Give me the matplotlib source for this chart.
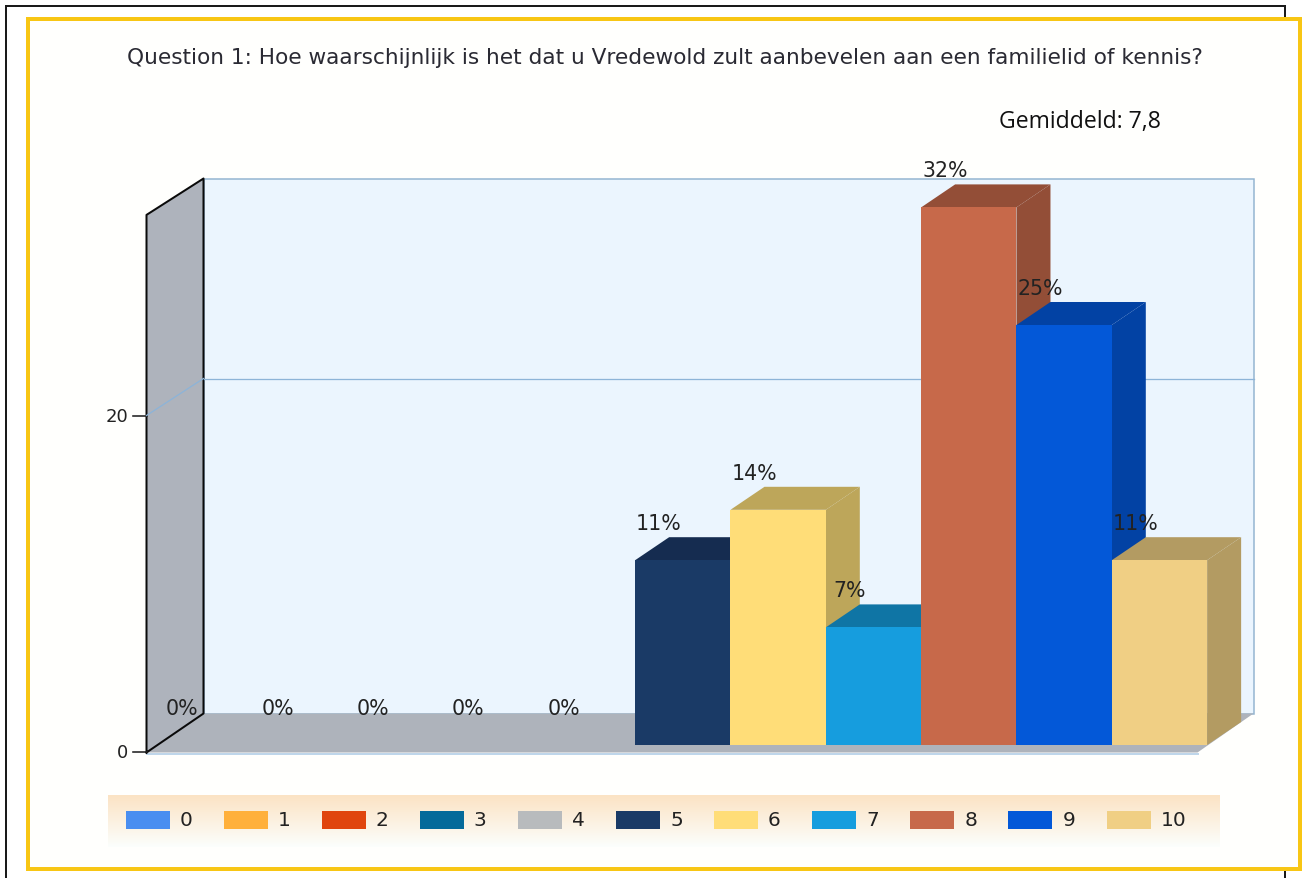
import numpy as np
import matplotlib
matplotlib.use("Agg")
import matplotlib.pyplot as plt
from matplotlib.patches import Polygon, Rectangle

categories = ["0", "1", "2", "3", "4", "5", "6", "7", "8", "9", "10"]
percentages = [0, 0, 0, 0, 0, 11, 14, 7, 32, 25, 11]
front_colors = ["#4A8EF0", "#FFB03B", "#E0450E", "#046A9A", "#B8BBBD", "#1A3A66",
                "#FFDD78", "#169DDE", "#C7694A", "#0358D8", "#F0CF84"]
top_colors = ["#3A70C0", "#C88A30", "#B0360B", "#035278", "#909294", "#152C50",
              "#BDA65A", "#0F75A5", "#934E37", "#0242A4", "#B39B62"]
y_ticks = [0, 20]
title = "Question 1: Hoe waarschijnlijk is het dat u Vredewold zult aanbevelen aan een familielid of kennis?"
note = "Gemiddeld: 7,8"

W, H = 1303, 879
fig = plt.figure(figsize=(W / 100, H / 100), dpi=100, facecolor="white")

# Pixel-space layer for the frame, walls and legend band
bg = fig.add_axes([0, 0, 1, 1], zorder=0)

def px(w):
    return w * 0.72

# outer black frame, open at the bottom
bg.plot([5, 5, 1284, 1284], [H, 6, 6, H], color="#1a1a1a", lw=px(2), zorder=1, solid_joinstyle="miter")
# gold frame
bg.add_patch(Rectangle((27.5, 19), 1272, 850.5, fc="#FFFFFD", ec="#F8C614", lw=px(4), zorder=2))

# 3D box
BL, BT, BR, BB = 203, 179, 1253, 714   # back wall
FL, FR, FB = 146, 1197, 753            # front edge
unit = 16.8
wall_top = FB - unit * max(percentages)
bg.add_patch(Rectangle((BL, BT), BR - BL, BB - BT, fc="#EBF5FE", ec="#92B4D0", lw=px(1.5), zorder=3))
bg.add_patch(Polygon([(FL, FB), (BL, BB), (BR, BB), (FR, FB)], fc="#AEB3BB", ec="none", zorder=3))
bg.plot([FL, FR], [FB + 1, FB + 1], color="#BFD6EA", lw=px(2), zorder=3)
bg.add_patch(Polygon([(FL, wall_top), (BL, BT), (BL, BB), (FL, FB)], fc="#AEB3BC", ec="none", zorder=3))
bg.plot([FL, FL, BL, BL, FL], [FB, wall_top, BT, BB, FB], color="#0a0a0a", lw=px(2), zorder=4)

for t in y_ticks:
    yf = FB - 1 - unit * t
    yb = yf - 37
    bg.plot([FL - 14, FL], [yf, yf], color="#222222", lw=px(1.6), zorder=4)
    bg.text(FL - 18, yf + 1, str(t), ha="right", va="center", fontsize=13, color="#222222", zorder=5)
    if t:
        bg.plot([FL, BL], [yf, yb], color="#8DB4D8", lw=px(1.3), zorder=4)
        bg.plot([BL, BR], [yb, yb], color="#8DB4D8", lw=px(1.3), zorder=4)

# legend band with vertical gradient
grad = np.ones((64, 1, 4))
grad[:, 0, 0] = 0.985
grad[:, 0, 1] = np.linspace(0.89, 0.998, 64)
grad[:, 0, 2] = np.linspace(0.77, 0.99, 64)
bg.imshow(grad, extent=(107, 1219, 848, 796), aspect="auto", zorder=3)
bg.set_xlim(-0.5, W - 0.5)
bg.set_ylim(H - 0.5, -0.5)
bg.axis("off")
for i, (c, col) in enumerate(zip(categories, front_colors)):
    x0 = 125 + 98.1 * i
    bg.add_patch(Rectangle((x0, 811), 44, 18, fc=col, ec="none", zorder=4))
    bg.text(x0 + 54, 820, c, ha="left", va="center", fontsize=14.5, color="#222222", zorder=5)

bg.text(664, 57, title, ha="center", va="center", fontsize=15.6, color="#2a2a33", zorder=5)
bg.text(1079.5, 121, note, ha="center", va="center", fontsize=16.6, family="Open Sans", color="#111111", zorder=5)

# Data layer: x in category slots, y in percent
slot = 95.33
x0_px, y0_px = 158, 745.5
ax = fig.add_axes([0, 0, 1, 1], zorder=1)
ax.set_xlim((-0.5 - x0_px) / slot, (W - 0.5 - x0_px) / slot)
ax.set_ylim(-(H - 0.5 - y0_px) / unit, (y0_px + 0.5) / unit)
ax.axis("off")
ax.patch.set_alpha(0)

dx, dy = 34 / slot, 23 / unit
for i, v in enumerate(percentages):
    if v > 0:
        ax.bar(i, v, width=1, align="edge", color=front_colors[i], zorder=10 + 2 * i + 1)
        side = [(i + 1, 0), (i + 1 + dx, dy), (i + 1 + dx, v + dy), (i + 1, v)]
        top = [(i, v), (i + dx, v + dy), (i + 1 + dx, v + dy), (i + 1, v)]
        ax.add_patch(Polygon(side, fc=top_colors[i], ec="none", zorder=10 + 2 * i))
        ax.add_patch(Polygon(top, fc=top_colors[i], ec="none", zorder=10 + 2 * i))
    ax.annotate(f"{v}%", (i + 0.5, v), xytext=(-24 * 0.72, 37 * 0.72), textcoords="offset points",
                ha="center", va="center", fontsize=14.8, color="#222222", zorder=60)

fig.savefig("out.png", dpi=100)
